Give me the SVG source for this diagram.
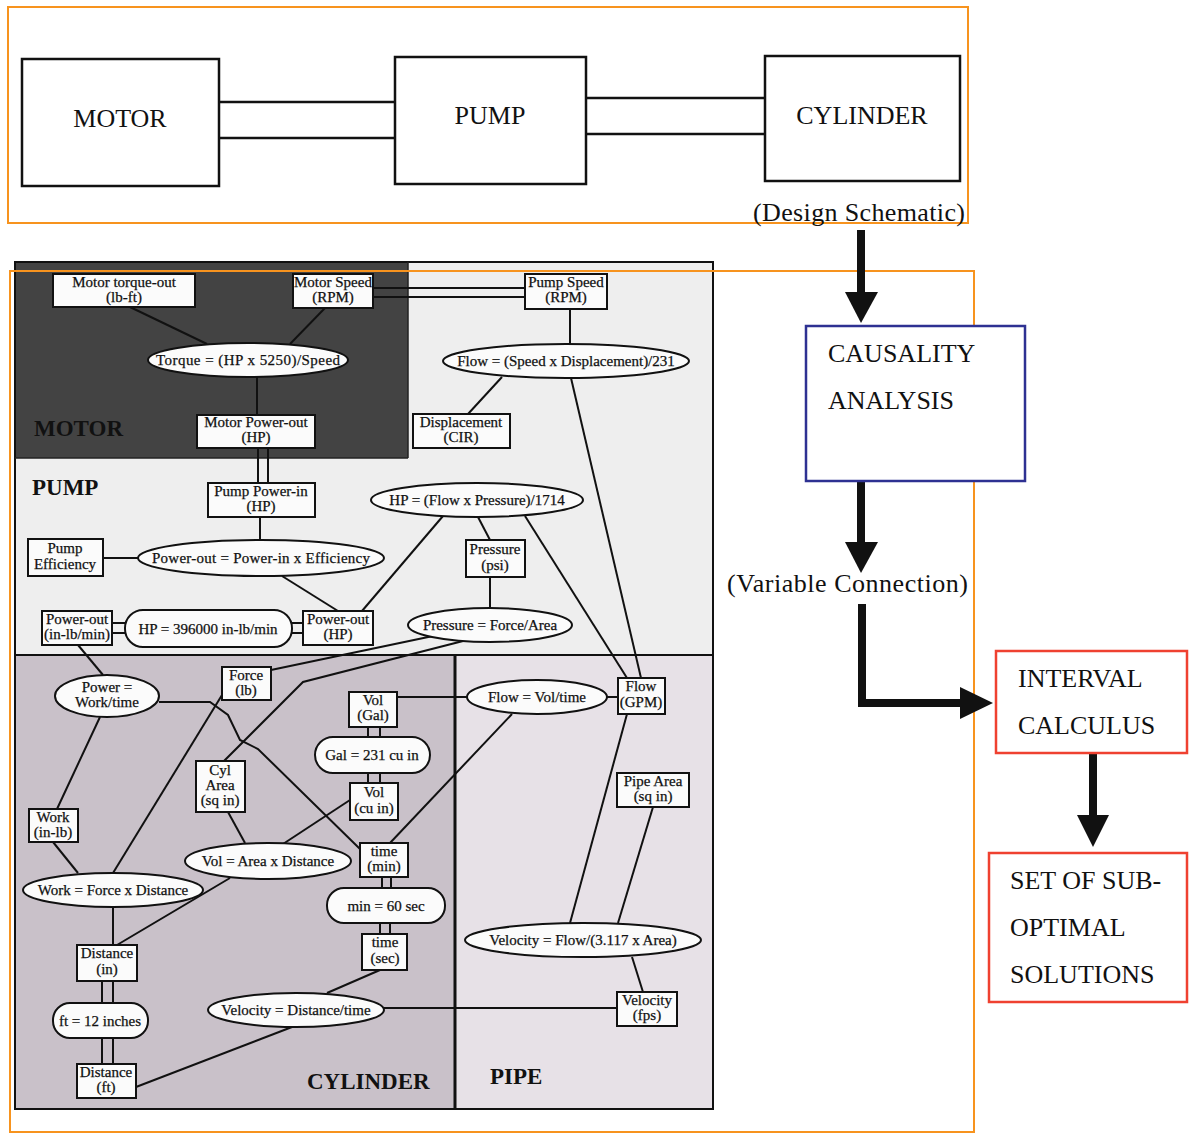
<svg xmlns="http://www.w3.org/2000/svg" width="1189" height="1134" viewBox="0 0 1189 1134">
  <style>
    .serif { font-family: "Liberation Serif", "Times New Roman", serif; fill: #111; }
    .big { font-size: 26px; }
    .t { font-size: 15px; text-anchor: middle; stroke: #111; stroke-width: 0.25; }
    .lbl { font-size: 23px; font-weight: bold; }
    .blk { fill: #fff; stroke: #111; stroke-width: 2.5; }
    .box { fill: #fbfbfb; stroke: #111; stroke-width: 2; }
    .ln { fill: none; stroke: #111; stroke-width: 2; }
    .pipe2 { fill: none; stroke: #111; stroke-width: 2.5; }
    .orange { fill: none; stroke: #f7931e; stroke-width: 2; }
    .arrow { fill: #111; }
  </style>

  <rect width="1189" height="1134" fill="#fff"/>

  <!-- design schematic -->
  <g id="schematic">
    <rect class="orange" x="8" y="7" width="960" height="216"/>
    <g class="pipe2">
      <line x1="220" y1="102" x2="396" y2="102"/>
      <line x1="220" y1="138" x2="396" y2="138"/>
      <line x1="587" y1="98" x2="766" y2="98"/>
      <line x1="587" y1="134" x2="766" y2="134"/>
    </g>
    <g id="sch-motor">
      <rect class="blk" x="22" y="59" width="197" height="127"/>
      <text class="serif big" x="120" y="127" text-anchor="middle">MOTOR</text>
    </g>
    <g id="sch-pump">
      <rect class="blk" x="395" y="57" width="191" height="127"/>
      <text class="serif big" x="490" y="124" text-anchor="middle">PUMP</text>
    </g>
    <g id="sch-cylinder">
      <rect class="blk" x="765" y="56" width="195" height="125"/>
      <text class="serif big" x="862" y="124" text-anchor="middle">CYLINDER</text>
    </g>
    <text class="serif big" x="753" y="221" textLength="212">(Design Schematic)</text>
  </g>

  <!-- variable network panel backgrounds -->
  <g id="panel">
    <rect x="15" y="262" width="698" height="847" fill="#eeeeee" stroke="#111" stroke-width="2"/>
    <rect x="16" y="263" width="392" height="195" fill="#434343"/>
    <rect x="16" y="655" width="439" height="453" fill="#c9c1c9"/>
    <rect x="455" y="655" width="257" height="453" fill="#e7e1e7"/>
    <line x1="15" y1="655" x2="713" y2="655" stroke="#111" stroke-width="2"/>
    <line x1="455" y1="655" x2="455" y2="1109" stroke="#111" stroke-width="3"/>
    <line x1="408" y1="262" x2="408" y2="458" stroke="#222" stroke-width="1.5"/>
    <line x1="15" y1="458" x2="408" y2="458" stroke="#222" stroke-width="1.5"/>
    <text class="serif lbl" x="34" y="436" fill="#1a1a1a">MOTOR</text>
    <text class="serif lbl" x="32" y="495">PUMP</text>
    <text class="serif lbl" x="307" y="1089">CYLINDER</text>
    <text class="serif lbl" x="490" y="1084">PIPE</text>
  </g>

  <rect class="orange" x="10" y="271" width="964" height="861"/>

  <!-- connectors between variables and relations -->
  <g id="connectors" class="ln">
    <line x1="373" y1="288" x2="525" y2="288"/>
    <line x1="373" y1="297" x2="525" y2="297"/>
    <line x1="130" y1="307" x2="207" y2="344"/>
    <line x1="325" y1="308" x2="290" y2="344"/>
    <line x1="257" y1="377" x2="257" y2="415"/>
    <line x1="570" y1="309" x2="570" y2="344"/>
    <line x1="502" y1="377" x2="468" y2="414"/>
    <line x1="571" y1="378" x2="641" y2="678"/>
    <line x1="258" y1="448" x2="258" y2="483"/>
    <line x1="268" y1="448" x2="268" y2="483"/>
    <line x1="260" y1="517" x2="260" y2="540"/>
    <line x1="103" y1="558" x2="138" y2="558"/>
    <line x1="282" y1="576" x2="338" y2="611"/>
    <line x1="443" y1="516" x2="362" y2="611"/>
    <line x1="478" y1="517" x2="490" y2="540"/>
    <line x1="525" y1="516" x2="627" y2="678"/>
    <line x1="490" y1="577" x2="490" y2="608"/>
    <line x1="112" y1="623" x2="125" y2="623"/>
    <line x1="112" y1="633" x2="125" y2="633"/>
    <line x1="292" y1="623" x2="303" y2="623"/>
    <line x1="292" y1="633" x2="303" y2="633"/>
    <line x1="78" y1="645" x2="103" y2="675"/>
    <line x1="433" y1="636" x2="271" y2="670"/>
    <polyline points="467,640 303,682 224,761"/>
    <polyline points="159,702 210,702 228,715 240,740 258,749 360,849"/>
    <line x1="100" y1="717" x2="57" y2="809"/>
    <line x1="53" y1="842" x2="78" y2="873"/>
    <line x1="113" y1="873" x2="222" y2="695"/>
    <line x1="228" y1="812" x2="245" y2="843"/>
    <line x1="283" y1="844" x2="350" y2="800"/>
    <line x1="230" y1="878" x2="117" y2="945"/>
    <line x1="397" y1="697" x2="467" y2="697"/>
    <line x1="368" y1="727" x2="368" y2="737"/>
    <line x1="380" y1="727" x2="380" y2="737"/>
    <line x1="368" y1="773" x2="368" y2="783"/>
    <line x1="380" y1="773" x2="380" y2="783"/>
    <line x1="390" y1="843" x2="512" y2="714"/>
    <line x1="382" y1="877" x2="382" y2="888"/>
    <line x1="391" y1="877" x2="391" y2="888"/>
    <line x1="380" y1="923" x2="380" y2="934"/>
    <line x1="390" y1="923" x2="390" y2="934"/>
    <line x1="380" y1="970" x2="327" y2="993"/>
    <line x1="384" y1="1008" x2="617" y2="1008"/>
    <line x1="292" y1="1027" x2="136" y2="1087"/>
    <line x1="113" y1="907" x2="113" y2="945"/>
    <line x1="102" y1="981" x2="102" y2="1003"/>
    <line x1="113" y1="981" x2="113" y2="1003"/>
    <line x1="102" y1="1038" x2="102" y2="1064"/>
    <line x1="113" y1="1038" x2="113" y2="1064"/>
    <line x1="607" y1="697" x2="618" y2="697"/>
    <line x1="627" y1="714" x2="570" y2="923"/>
    <line x1="653" y1="807" x2="618" y2="923"/>
    <line x1="632" y1="957" x2="643" y2="992"/>
  </g>

  <!-- variables and relations -->
  <g id="n-torque-out"><rect class="box" x="53" y="274" width="142" height="33"/>
    <text class="serif t" x="124" y="287">Motor torque-out</text><text class="serif t" x="124" y="302">(lb-ft)</text></g>
  <g id="n-motor-speed"><rect class="box" x="293" y="274" width="80" height="34"/>
    <text class="serif t" x="333" y="287">Motor Speed</text><text class="serif t" x="333" y="302">(RPM)</text></g>
  <g id="n-pump-speed"><rect class="box" x="525" y="274" width="82" height="35"/>
    <text class="serif t" x="566" y="287">Pump Speed</text><text class="serif t" x="566" y="302">(RPM)</text></g>
  <g id="n-torque-eq"><ellipse class="box" cx="248" cy="360" rx="100" ry="17"/>
    <text class="serif t" x="248" y="365" textLength="184">Torque = (HP x 5250)/Speed</text></g>
  <g id="n-flow-eq"><ellipse class="box" cx="566" cy="361" rx="123" ry="17"/>
    <text class="serif t" x="566" y="366">Flow = (Speed x Displacement)/231</text></g>
  <g id="n-motor-power"><rect class="box" x="197" y="415" width="118" height="33"/>
    <text class="serif t" x="256" y="427">Motor Power-out</text><text class="serif t" x="256" y="442">(HP)</text></g>
  <g id="n-displacement"><rect class="box" x="413" y="414" width="97" height="34"/>
    <text class="serif t" x="461" y="427">Displacement</text><text class="serif t" x="461" y="442">(CIR)</text></g>
  <g id="n-pump-power-in"><rect class="box" x="208" y="483" width="107" height="34"/>
    <text class="serif t" x="261" y="496">Pump Power-in</text><text class="serif t" x="261" y="511">(HP)</text></g>
  <g id="n-hp-eq"><ellipse class="box" cx="477" cy="500" rx="106" ry="17"/>
    <text class="serif t" x="477" y="505">HP = (Flow x Pressure)/1714</text></g>
  <g id="n-pump-eff"><rect class="box" x="28" y="539" width="75" height="37"/>
    <text class="serif t" x="65" y="553">Pump</text><text class="serif t" x="65" y="569">Efficiency</text></g>
  <g id="n-power-eq"><ellipse class="box" cx="261" cy="558" rx="123" ry="18"/>
    <text class="serif t" x="261" y="563" textLength="218">Power-out = Power-in x Efficiency</text></g>
  <g id="n-pressure"><rect class="box" x="466" y="540" width="59" height="37"/>
    <text class="serif t" x="495" y="554">Pressure</text><text class="serif t" x="495" y="570">(psi)</text></g>
  <g id="n-power-inlb"><rect class="box" x="42" y="611" width="70" height="34"/>
    <text class="serif t" x="77" y="624">Power-out</text><text class="serif t" x="77" y="639">(in-lb/min)</text></g>
  <g id="n-hp-conv"><rect class="box" x="125" y="610" width="167" height="37" rx="18"/>
    <text class="serif t" x="208" y="634">HP = 396000 in-lb/min</text></g>
  <g id="n-power-hp"><rect class="box" x="303" y="611" width="70" height="34"/>
    <text class="serif t" x="338" y="624">Power-out</text><text class="serif t" x="338" y="639">(HP)</text></g>
  <g id="n-pressure-eq"><ellipse class="box" cx="490" cy="625" rx="82" ry="17"/>
    <text class="serif t" x="490" y="630">Pressure = Force/Area</text></g>
  <g id="n-power-work"><ellipse class="box" cx="107" cy="696" rx="52" ry="21"/>
    <text class="serif t" x="107" y="692">Power =</text><text class="serif t" x="107" y="707">Work/time</text></g>
  <g id="n-force"><rect class="box" x="222" y="667" width="49" height="33"/>
    <text class="serif t" x="246" y="680">Force</text><text class="serif t" x="246" y="695">(lb)</text></g>
  <g id="n-vol-gal"><rect class="box" x="349" y="692" width="48" height="35"/>
    <text class="serif t" x="373" y="705">Vol</text><text class="serif t" x="373" y="720">(Gal)</text></g>
  <g id="n-flow-voltime"><ellipse class="box" cx="537" cy="697" rx="70" ry="17"/>
    <text class="serif t" x="537" y="702">Flow = Vol/time</text></g>
  <g id="n-flow-gpm"><rect class="box" x="618" y="678" width="47" height="36"/>
    <text class="serif t" x="641" y="691">Flow</text><text class="serif t" x="641" y="707">(GPM)</text></g>
  <g id="n-gal-conv"><rect class="box" x="315" y="737" width="115" height="36" rx="18"/>
    <text class="serif t" x="372" y="760">Gal = 231 cu in</text></g>
  <g id="n-cyl-area"><rect class="box" x="196" y="761" width="49" height="51"/>
    <text class="serif t" x="220" y="775">Cyl</text><text class="serif t" x="220" y="790">Area</text><text class="serif t" x="220" y="805">(sq in)</text></g>
  <g id="n-pipe-area"><rect class="box" x="617" y="773" width="72" height="34"/>
    <text class="serif t" x="653" y="786">Pipe Area</text><text class="serif t" x="653" y="801">(sq in)</text></g>
  <g id="n-vol-cu"><rect class="box" x="350" y="783" width="48" height="37"/>
    <text class="serif t" x="374" y="797">Vol</text><text class="serif t" x="374" y="813">(cu in)</text></g>
  <g id="n-work"><rect class="box" x="29" y="809" width="49" height="33"/>
    <text class="serif t" x="53" y="822">Work</text><text class="serif t" x="53" y="837">(in-lb)</text></g>
  <g id="n-vol-eq"><ellipse class="box" cx="268" cy="861" rx="83" ry="18"/>
    <text class="serif t" x="268" y="866">Vol = Area x Distance</text></g>
  <g id="n-time-min"><rect class="box" x="360" y="843" width="48" height="34"/>
    <text class="serif t" x="384" y="856">time</text><text class="serif t" x="384" y="871">(min)</text></g>
  <g id="n-work-eq"><ellipse class="box" cx="113" cy="890" rx="90" ry="17"/>
    <text class="serif t" x="113" y="895">Work = Force x Distance</text></g>
  <g id="n-min-conv"><rect class="box" x="327" y="888" width="118" height="35" rx="17"/>
    <text class="serif t" x="386" y="911">min = 60 sec</text></g>
  <g id="n-vel-pipe-eq"><ellipse class="box" cx="583" cy="940" rx="118" ry="17"/>
    <text class="serif t" x="583" y="945">Velocity = Flow/(3.117 x Area)</text></g>
  <g id="n-time-sec"><rect class="box" x="362" y="934" width="45" height="36"/>
    <text class="serif t" x="385" y="947">time</text><text class="serif t" x="385" y="963">(sec)</text></g>
  <g id="n-dist-in"><rect class="box" x="77" y="945" width="60" height="36"/>
    <text class="serif t" x="107" y="958">Distance</text><text class="serif t" x="107" y="974">(in)</text></g>
  <g id="n-vel-fps"><rect class="box" x="617" y="992" width="60" height="34"/>
    <text class="serif t" x="647" y="1005">Velocity</text><text class="serif t" x="647" y="1020">(fps)</text></g>
  <g id="n-vel-cyl-eq"><ellipse class="box" cx="296" cy="1010" rx="88" ry="17"/>
    <text class="serif t" x="296" y="1015">Velocity = Distance/time</text></g>
  <g id="n-ft-conv"><rect class="box" x="53" y="1003" width="95" height="35" rx="17"/>
    <text class="serif t" x="100" y="1026">ft = 12 inches</text></g>
  <g id="n-dist-ft"><rect class="box" x="77" y="1064" width="59" height="34"/>
    <text class="serif t" x="106" y="1077">Distance</text><text class="serif t" x="106" y="1092">(ft)</text></g>

  <!-- process flow on the right -->
  <g id="flow-arrows" class="arrow">
    <rect x="857" y="230" width="8" height="66"/>
    <polygon points="845,292 878,292 861,323"/>
    <rect x="857" y="481" width="8" height="64"/>
    <polygon points="845,542 878,542 861,573"/>
    <path d="M858,604 H866 V699 H962 V707 H858 Z"/>
    <polygon points="960,687 960,719 993,703"/>
    <rect x="1089" y="753" width="8" height="65"/>
    <polygon points="1077,815 1109,815 1093,847"/>
  </g>
  <g id="causality">
    <rect x="806" y="326" width="219" height="155" fill="#fff" stroke="#2e3192" stroke-width="2.5"/>
    <text class="serif big" x="828" y="362">CAUSALITY</text>
    <text class="serif big" x="828" y="409">ANALYSIS</text>
  </g>
  <text class="serif big" x="727" y="592" textLength="241">(Variable Connection)</text>
  <g id="interval">
    <rect x="996" y="651" width="191" height="102" fill="#fff" stroke="#ef4130" stroke-width="2.5"/>
    <text class="serif big" x="1018" y="687">INTERVAL</text>
    <text class="serif big" x="1018" y="734">CALCULUS</text>
  </g>
  <g id="solutions">
    <rect x="989" y="853" width="198" height="149" fill="#fff" stroke="#ef4130" stroke-width="2.5"/>
    <text class="serif big" x="1010" y="889">SET OF SUB-</text>
    <text class="serif big" x="1010" y="936">OPTIMAL</text>
    <text class="serif big" x="1010" y="983">SOLUTIONS</text>
  </g>
</svg>
